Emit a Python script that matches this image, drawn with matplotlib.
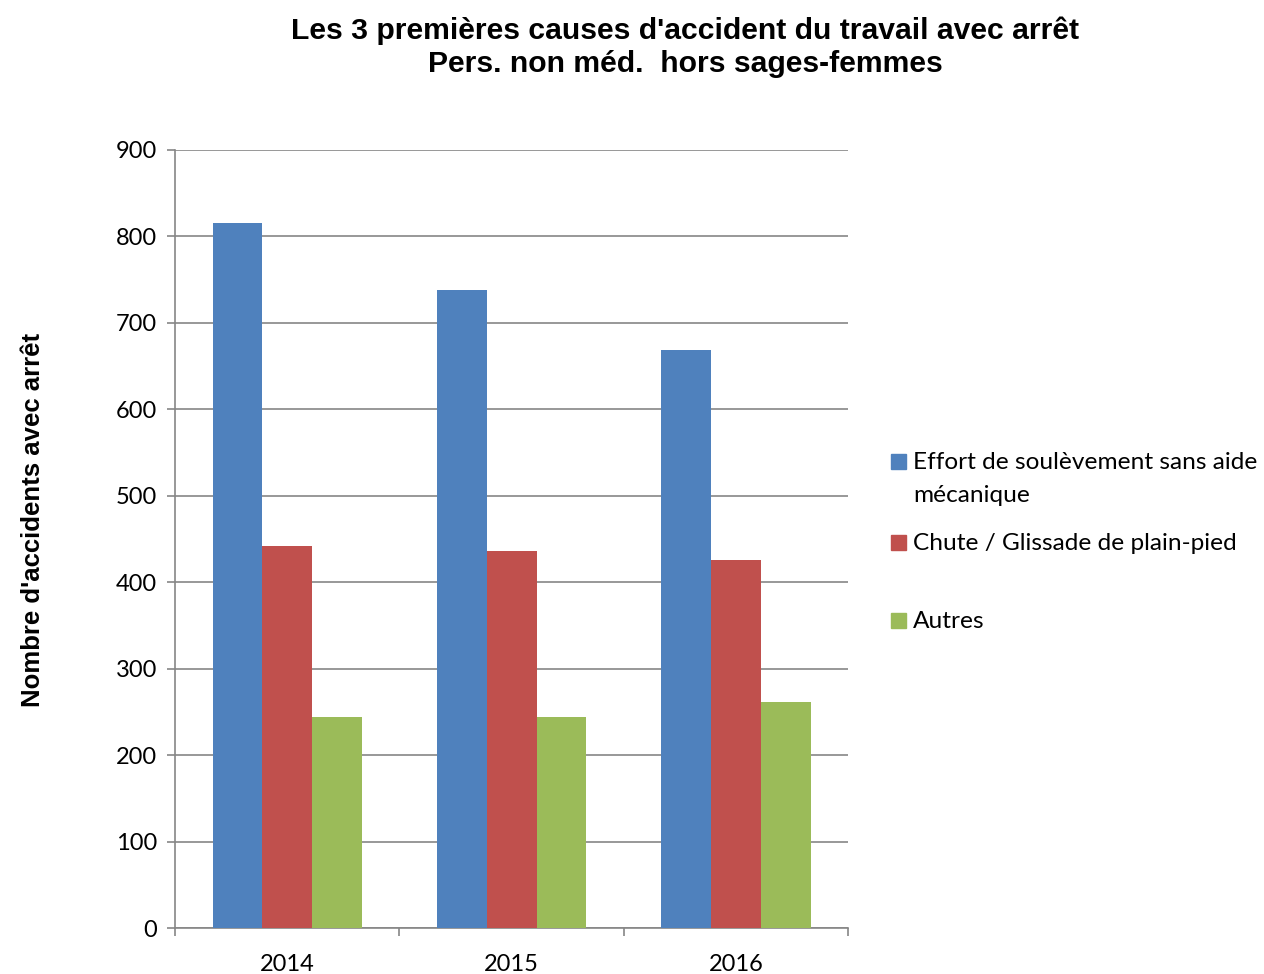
import numpy as np
import matplotlib.pyplot as plt
from matplotlib.patches import Rectangle
from matplotlib.ticker import FixedLocator

annees = ['2014', '2015', '2016']
causes = ['Effort de soulèvement sans aide\nmécanique',
          'Chute / Glissade de plain-pied',
          'Autres']
effort = [816, 738, 669]
chute = [442, 436, 426]
autres = [244, 244, 261]
couleurs = ['#4F81BD', '#C0504D', '#9BBB59']

plt.rcParams['font.family'] = ['Lato', 'DejaVu Sans']

fig = plt.figure(figsize=(12.64, 9.74), dpi=100)
ax = fig.add_axes([0.1385, 0.0472, 0.5325, 0.7988])

x = np.arange(len(annees))
w = 0.222
for k, (vals, lab) in enumerate(zip([effort, chute, autres], causes)):
    ax.bar(x + (k - 1) * w, vals, w, color=couleurs[k], label=lab, zorder=3)

ax.set_xlim(-0.5, 2.5)
ax.set_ylim(0, 900)
ax.set_yticks(range(0, 901, 100))
ax.xaxis.set_major_locator(FixedLocator([-0.5, 0.5, 1.5, 2.5]))
ax.xaxis.set_minor_locator(FixedLocator(x))
ax.set_xticklabels([])
ax.set_xticklabels(annees, minor=True)
ax.tick_params(axis='x', which='major', length=6, color='#868686', width=1.2)
ax.tick_params(axis='x', which='minor', length=0, pad=19, labelsize=17)
ax.tick_params(axis='y', length=6, color='#868686', width=1.2, labelsize=17, pad=7)

ax.grid(axis='y', color='#868686', linewidth=1.2, zorder=0)
for s in ['top', 'right']:
    ax.spines[s].set_visible(False)
for s in ['left', 'bottom']:
    ax.spines[s].set_color('#868686')
    ax.spines[s].set_linewidth(1.2)

fig.text(0.026, 0.466, "Nombre d'accidents avec arrêt", rotation=90,
         ha='center', va='center', fontsize=18.5, fontweight='bold',
         family='Liberation Sans')
fig.text(0.542, 0.9517, "Les 3 premières causes d'accident du travail avec arrêt\nPers. non méd.  hors sages-femmes",
         ha='center', va='center', fontsize=21.7, fontweight='bold',
         family='Liberation Sans', linespacing=1.22)

# legende faite a la main (Excel : une case fixe par entree)
H = 974.0
bases = [469, 550, 628]
for k, lab in enumerate(causes):
    yb = 1 - bases[k] / H
    fig.patches.append(Rectangle((891 / 1264, yb), 15 / 1264, 15 / H,
                                 transform=fig.transFigure, color=couleurs[k]))
    for j, ligne in enumerate(lab.split('\n')):
        fig.text(913 / 1264, yb - j * 33 / H, ligne, fontsize=17.6,
                 ha='left', va='baseline')

fig.savefig('out.png', dpi=100)
